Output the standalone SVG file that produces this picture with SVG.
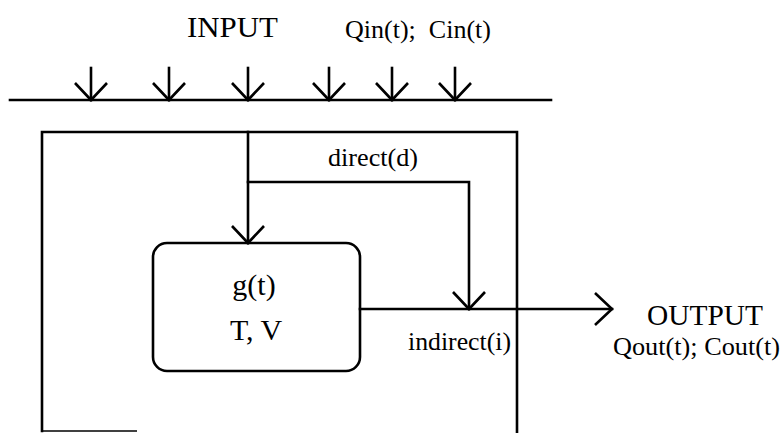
<svg xmlns="http://www.w3.org/2000/svg" width="782" height="433" viewBox="0 0 782 433">
<style>
.ln{fill:none;stroke:#000;stroke-width:2.6;stroke-linecap:square}
.ar{marker-end:url(#v)}
.t{font-family:"Liberation Serif","Times New Roman",serif;fill:#000}
.big{font-size:30px}
.sm{font-size:25px}
</style>
<defs>
<marker id="v" markerUnits="userSpaceOnUse" orient="auto" refX="0" refY="0" markerWidth="40" markerHeight="40" style="overflow:visible">
<path d="M-17,-16 L0,0 L-17,16" fill="none" stroke="#000" stroke-width="2.6"/>
</marker>
</defs>
<rect width="782" height="433" fill="#fff"/>
<g id="input">
<line class="ln" x1="10" y1="100" x2="551" y2="100"/>
<text class="t big" x="187" y="37" textLength="91" lengthAdjust="spacingAndGlyphs">INPUT</text>
<text class="t sm" x="345" y="38" textLength="146" lengthAdjust="spacingAndGlyphs" xml:space="preserve">Qin(t);  Cin(t)</text>
</g>
<g id="system">
<path class="ln" d="M42,431 V132 H517 V433"/>
<line x1="42" y1="431" x2="137" y2="431" stroke="#000" stroke-width="1.5"/>
</g>
<g id="reservoir">
<rect class="ln" x="153" y="243" width="207" height="128" rx="14" ry="14"/>
<text class="t big" x="254" y="295" text-anchor="middle">g(t)</text>
<text class="t big" x="256" y="340" text-anchor="middle">T, V</text>
</g>
<g id="output">
<text class="t big" x="647" y="325" textLength="116" lengthAdjust="spacingAndGlyphs">OUTPUT</text>
<text class="t sm" x="613" y="355" textLength="167" lengthAdjust="spacingAndGlyphs">Qout(t); Cout(t)</text>
</g>
<g id="connectors">
<line class="ln ar" x1="91" y1="68" x2="91" y2="100"/>
<line class="ln ar" x1="169" y1="68" x2="169" y2="100"/>
<line class="ln ar" x1="248" y1="68" x2="248" y2="100"/>
<line class="ln ar" x1="329" y1="68" x2="329" y2="100"/>
<line class="ln ar" x1="392" y1="68" x2="392" y2="100"/>
<line class="ln ar" x1="455" y1="68" x2="455" y2="100"/>
<line class="ln ar" x1="248" y1="132" x2="248" y2="243"/>
<path class="ln ar" d="M248,182 H469 V309"/>
<line class="ln ar" x1="360" y1="309" x2="612" y2="309"/>
<text class="t sm" x="328" y="166" textLength="90" lengthAdjust="spacingAndGlyphs">direct(d)</text>
<text class="t sm" x="408" y="350" textLength="103" lengthAdjust="spacingAndGlyphs">indirect(i)</text>
</g>
</svg>
